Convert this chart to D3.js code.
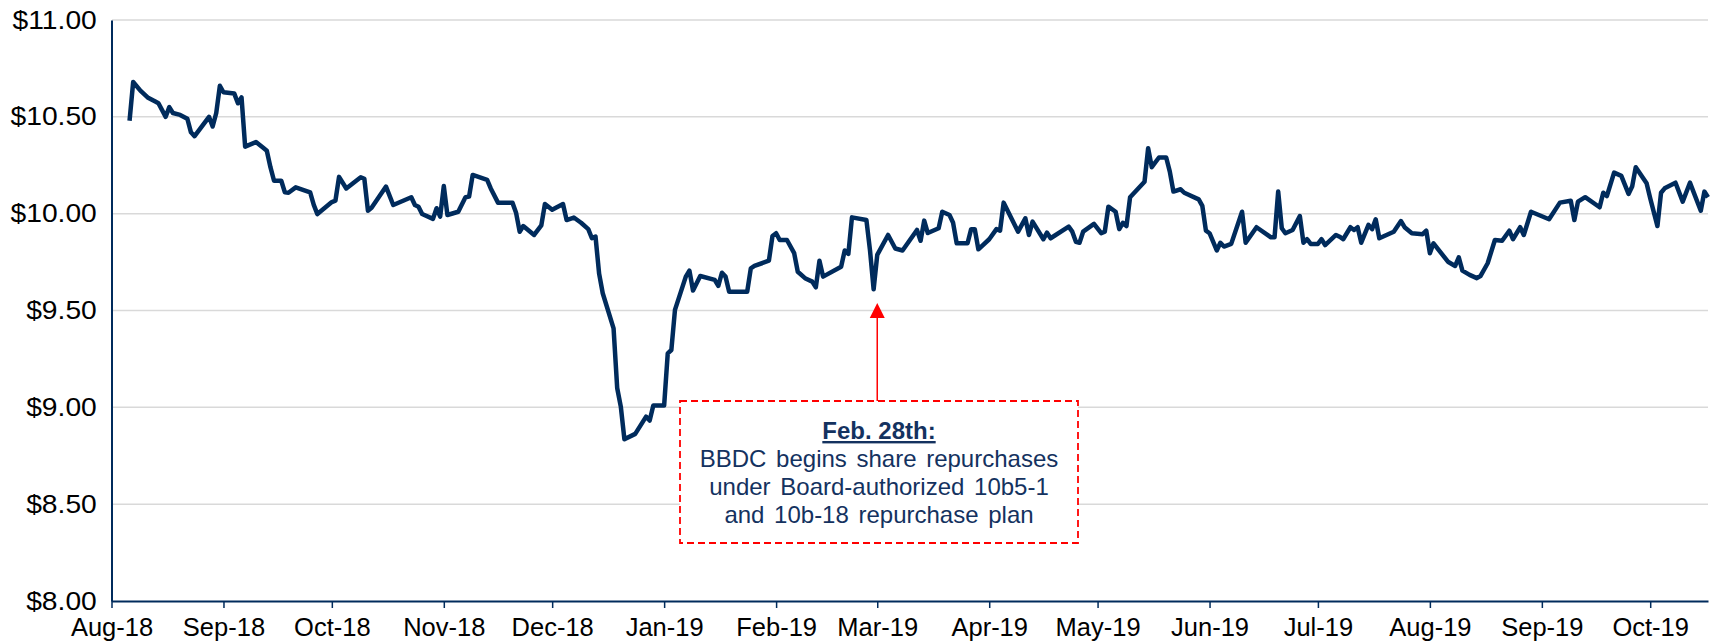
<!DOCTYPE html>
<html>
<head>
<meta charset="utf-8">
<script src="https://cdn.jsdelivr.net/npm/d3@7"></script>
<style>
body { margin: 0; background: #fff; }
text { font-family: "Liberation Sans", Arial, sans-serif; }
</style>
</head>
<body>
<script>
// share price
var dates = ["2018-08-06","2018-08-07","2018-08-09","2018-08-11","2018-08-13","2018-08-14","2018-08-16","2018-08-17","2018-08-18","2018-08-20",
"2018-08-22","2018-08-23","2018-08-24","2018-08-28","2018-08-29","2018-08-30","2018-08-31","2018-09-01","2018-09-04","2018-09-05",
"2018-09-06","2018-09-07","2018-09-10","2018-09-12","2018-09-13","2018-09-14","2018-09-15","2018-09-17","2018-09-18","2018-09-19",
"2018-09-21","2018-09-25","2018-09-26","2018-09-27","2018-10-01","2018-10-02","2018-10-03","2018-10-05","2018-10-09","2018-10-10",
"2018-10-11","2018-10-12","2018-10-16","2018-10-18","2018-10-23","2018-10-24","2018-10-25","2018-10-26","2018-10-29","2018-10-30",
"2018-10-31","2018-11-01","2018-11-02","2018-11-05","2018-11-07","2018-11-08","2018-11-09","2018-11-13","2018-11-14","2018-11-16",
"2018-11-20","2018-11-21","2018-11-22","2018-11-23","2018-11-26","2018-11-28","2018-11-29","2018-12-01","2018-12-04","2018-12-05",
"2018-12-07","2018-12-09","2018-12-11","2018-12-12","2018-12-13","2018-12-14","2018-12-15","2018-12-18","2018-12-19","2018-12-20",
"2018-12-21","2018-12-24","2018-12-27","2018-12-28","2018-12-29","2019-01-01","2019-01-02","2019-01-03","2019-01-04","2019-01-07",
"2019-01-08","2019-01-09","2019-01-11","2019-01-15","2019-01-16","2019-01-17","2019-01-18","2019-01-19","2019-01-24","2019-01-25",
"2019-01-26","2019-01-30","2019-01-31","2019-02-01","2019-02-02","2019-02-04","2019-02-06","2019-02-07","2019-02-09","2019-02-11",
"2019-02-12","2019-02-13","2019-02-14","2019-02-19","2019-02-20","2019-02-21","2019-02-22","2019-02-26","2019-02-27","2019-02-28",
"2019-03-01","2019-03-04","2019-03-06","2019-03-08","2019-03-12","2019-03-13","2019-03-14","2019-03-15","2019-03-18","2019-03-19",
"2019-03-21","2019-03-22","2019-03-23","2019-03-26","2019-03-27","2019-03-28","2019-03-29","2019-04-01","2019-04-03","2019-04-04",
"2019-04-05","2019-04-09","2019-04-11","2019-04-12","2019-04-13","2019-04-16","2019-04-17","2019-04-18","2019-04-23","2019-04-24",
"2019-04-25","2019-04-26","2019-04-27","2019-04-30","2019-05-02","2019-05-03","2019-05-04","2019-05-06","2019-05-07","2019-05-08",
"2019-05-09","2019-05-10","2019-05-14","2019-05-15","2019-05-16","2019-05-18","2019-05-20","2019-05-21","2019-05-22","2019-05-24",
"2019-05-25","2019-05-29","2019-05-30","2019-05-31","2019-06-01","2019-06-03","2019-06-04","2019-06-05","2019-06-07","2019-06-10",
"2019-06-11","2019-06-14","2019-06-18","2019-06-19","2019-06-20","2019-06-21","2019-06-22","2019-06-24","2019-06-26","2019-06-27",
"2019-06-28","2019-06-29","2019-07-01","2019-07-02","2019-07-03","2019-07-06","2019-07-07","2019-07-08","2019-07-10","2019-07-11",
"2019-07-12","2019-07-13","2019-07-15","2019-07-16","2019-07-17","2019-07-18","2019-07-22","2019-07-24","2019-07-25","2019-07-27",
"2019-07-30","2019-07-31","2019-08-01","2019-08-02","2019-08-06","2019-08-08","2019-08-09","2019-08-10","2019-08-12","2019-08-14",
"2019-08-15","2019-08-17","2019-08-19","2019-08-21","2019-08-23","2019-08-24","2019-08-26","2019-08-27","2019-08-29","2019-09-03",
"2019-09-06","2019-09-09","2019-09-10","2019-09-11","2019-09-13","2019-09-17","2019-09-18","2019-09-19","2019-09-21","2019-09-23",
"2019-09-25","2019-09-26","2019-09-27","2019-09-30","2019-10-01","2019-10-03","2019-10-04","2019-10-05","2019-10-08","2019-10-10",
"2019-10-12","2019-10-15","2019-10-16","2019-10-17"];

var prices = [10.48,10.68,10.635,10.60,10.58,10.57,10.50,10.55,10.52,10.51,
10.49,10.42,10.40,10.50,10.45,10.52,10.66,10.627,10.62,10.57,
10.60,10.346,10.37,10.34,10.325,10.24,10.17,10.17,10.11,10.108,
10.136,10.11,10.045,9.998,10.06,10.067,10.19,10.13,10.188,10.18,
10.015,10.03,10.14,10.045,10.085,10.045,10.036,9.998,9.973,10.028,
9.985,10.143,9.993,10.01,10.085,10.088,10.20,10.174,10.13,10.057,
10.057,10.005,9.907,9.936,9.89,9.94,10.05,10.02,10.05,9.967,
9.98,9.953,9.92,9.873,9.882,9.69,9.589,9.408,9.10,9.004,
8.835,8.863,8.952,8.932,9.009,9.009,9.279,9.296,9.503,9.675,
9.706,9.603,9.678,9.658,9.627,9.695,9.675,9.597,9.597,9.718,
9.73,9.757,9.885,9.899,9.864,9.864,9.796,9.70,9.667,9.649,
9.62,9.757,9.675,9.726,9.81,9.792,9.981,9.967,9.81,9.61,
9.787,9.89,9.82,9.81,9.916,9.86,9.964,9.90,9.925,10.01,
9.993,9.953,9.847,9.847,9.92,9.92,9.816,9.868,9.92,9.912,
10.057,9.907,9.976,9.89,9.959,9.868,9.902,9.873,9.933,9.907,
9.855,9.85,9.907,9.947,9.899,9.907,10.036,10.01,9.92,9.953,
9.936,10.085,10.165,10.338,10.24,10.29,10.29,10.217,10.114,10.126,
10.108,10.074,10.04,9.912,9.899,9.81,9.85,9.83,9.844,10.01,
9.85,9.93,9.878,9.878,10.114,9.925,9.899,9.916,9.988,9.85,
9.868,9.844,9.844,9.868,9.838,9.89,9.881,9.868,9.93,9.916,
9.93,9.85,9.942,9.92,9.971,9.873,9.907,9.962,9.93,9.899,
9.894,9.912,9.796,9.847,9.752,9.73,9.775,9.706,9.684,9.667,
9.678,9.744,9.864,9.86,9.912,9.868,9.93,9.89,10.01,9.971,
10.057,10.067,9.967,10.062,10.085,10.033,10.108,10.091,10.212,10.195,
10.102,10.14,10.24,10.157,10.08,9.936,10.108,10.131,10.16,10.062,
10.16,10.015,10.114,10.085];

var yTicks = [8, 8.5, 9, 9.5, 10, 10.5, 11];
var xTicks = ["2018-08-01","2018-09-01","2018-10-01","2018-11-01","2018-12-01","2019-01-01","2019-02-01",
"2019-03-01","2019-04-01","2019-05-01","2019-06-01","2019-07-01","2019-08-01","2019-09-01","2019-10-01"];

var noteDate = "2019-03-01";
var noteTitle = "Feb. 28th:";
var noteLines = ["BBDC begins share repurchases", "under Board-authorized 10b5-1", "and 10b-18 repurchase plan"];

var navy = "#002b5c";
var textNavy = "#14325f";

var parse = d3.timeParse("%Y-%m-%d");

var data = dates.map(function(d, i) { return {date: parse(d), price: prices[i]}; });

var svg = d3.select("body").append("svg")
    .attr("width", 1711)
    .attr("height", 641);

var x = d3.scaleTime()
    .domain([parse("2018-08-01"), parse("2019-10-17")])
    .range([111.5, 1708]);

var y = d3.scaleLinear()
    .domain([8, 11])
    .range([601, 20]);

// gridlines
svg.append("g")
    .selectAll("line")
    .data(yTicks.filter(function(d) { return d > 8; }))
    .enter().append("line")
    .attr("x1", 112)
    .attr("x2", 1708)
    .attr("y1", function(d) { return y(d); })
    .attr("y2", function(d) { return y(d); })
    .attr("stroke", "#d9d9d9")
    .attr("stroke-width", 1.5);

// y axis (labels are a bit wide in the original, so stretch them)
var yAxis = svg.append("g")
    .attr("transform", "translate(111.5,0)")
    .call(d3.axisLeft(y).tickValues(yTicks).tickSize(0).tickPadding(13)
        .tickFormat(function(d) { return "$" + d.toFixed(2); }));
yAxis.select(".domain").attr("stroke", navy).attr("stroke-width", 2);
yAxis.selectAll("text")
    .attr("font-family", "Liberation Sans, Arial, sans-serif")
    .attr("font-size", 25)
    .attr("transform", "scale(1.13,1)")
    .attr("fill", "#000");

// x axis
var xAxis = svg.append("g")
    .attr("transform", "translate(0,601)")
    .call(d3.axisBottom(x).tickValues(xTicks.map(parse)).tickSize(7).tickSizeOuter(0).tickPadding(10)
        .tickFormat(d3.timeFormat("%b-%y")));
xAxis.select(".domain").attr("stroke", navy).attr("stroke-width", 2);
xAxis.selectAll(".tick line").attr("stroke", navy).attr("stroke-width", 1.5);
xAxis.selectAll("text")
    .attr("font-family", "Liberation Sans, Arial, sans-serif")
    .attr("font-size", 25.5)
    .attr("fill", "#000");

// price line
var line = d3.line()
    .x(function(d) { return x(d.date); })
    .y(function(d) { return y(d.price); });

svg.append("path")
    .datum(data)
    .attr("d", line)
    .attr("fill", "none")
    .attr("stroke", navy)
    .attr("stroke-width", 4.5)
    .attr("stroke-linejoin", "round");

// annotation
var ax = x(parse(noteDate));

svg.append("line")
    .attr("x1", ax)
    .attr("x2", ax)
    .attr("y1", 316)
    .attr("y2", 401)
    .attr("stroke", "#ff0000")
    .attr("stroke-width", 1.5);

svg.append("path")
    .attr("d", "M" + ax + ",303 L" + (ax - 7.5) + ",318 L" + (ax + 7.5) + ",318 Z")
    .attr("fill", "#ff0000");

svg.append("rect")
    .attr("x", 680)
    .attr("y", 401)
    .attr("width", 398)
    .attr("height", 142)
    .attr("fill", "#fff")
    .attr("stroke", "#ff0000")
    .attr("stroke-width", 1.8)
    .attr("stroke-dasharray", "7,4");

svg.append("text")
    .attr("x", 879)
    .attr("y", 439)
    .attr("text-anchor", "middle")
    .attr("font-size", 24)
    .attr("font-weight", "bold")
    .attr("text-decoration", "underline")
    .attr("fill", textNavy)
    .text(noteTitle);

svg.append("g")
    .selectAll("text")
    .data(noteLines)
    .enter().append("text")
    .attr("x", 879)
    .attr("y", function(d, i) { return 467 + i * 28; })
    .attr("text-anchor", "middle")
    .attr("font-size", 24)
    .attr("word-spacing", 3)
    .attr("fill", textNavy)
    .text(function(d) { return d; });
</script>
</body>
</html>
